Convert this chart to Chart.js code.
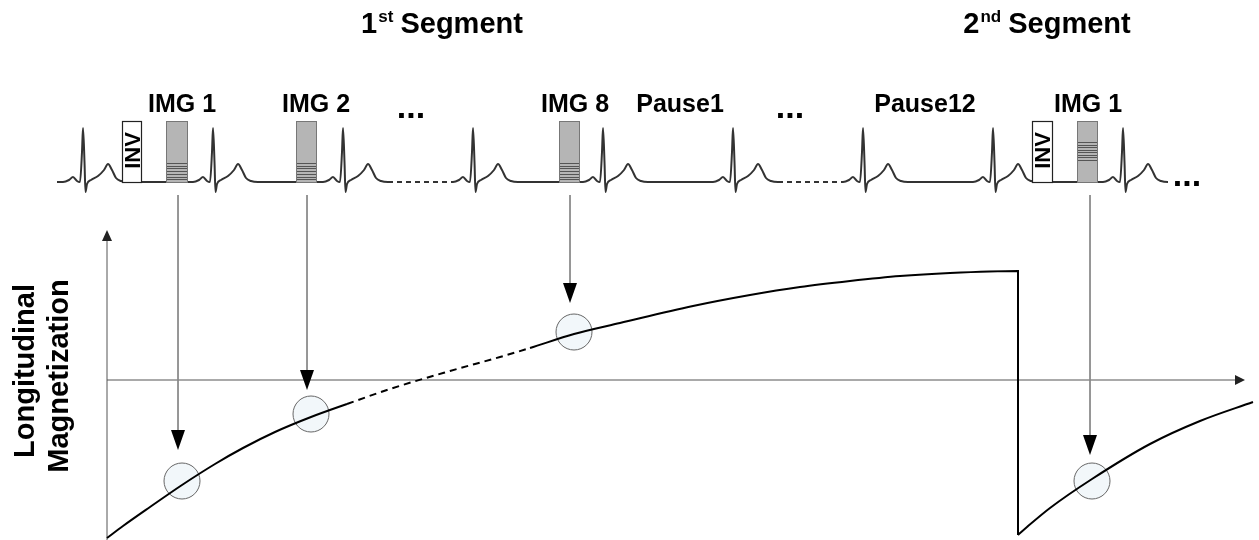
<!DOCTYPE html>
<html>
<head>
<meta charset="utf-8">
<title>Segmented inversion recovery</title>
<script src="https://cdn.jsdelivr.net/npm/chart.js@4/dist/chart.umd.min.js"></script>
<style>
    html, body { margin: 0; padding: 0; background: #fff; }
    #wrap { width: 1259px; height: 540px; position: relative; }
</style>
</head>
<body>
<div id="wrap"><canvas id="diagram"></canvas></div>
<script>
// ECG strip: R-peak times and one heartbeat (offset from R, height above baseline)
const beatTimes = [83, 213, 343, 473, 603, 733, 863, 993, 1123];
const beatShapeDx = [-20, -14, -10, -6, -3, -1, 0, 1.5, 2.5, 4, 8, 15, 21, 25, 29, 33, 38, 45];
const beatShapeH = [0, 2, 5, 1, 0, 30, 54, 20, -10, -2, 2, 6, 12, 18, 12, 4, 1, 0];
const ecgStart = 57;
const ecgEnd = 1167;
const ecgBaseline = 198;
const dashedAfterBeat = [2, 5];

// pulses on the strip
const invStart = [122, 1032];
const invEnd = [141, 1052];
const imgStart = [166, 296, 559, 1077];
const imgEnd = [187, 316, 579, 1097];
const pulseTop = 259;
const imgStripeLow = [0, 0, 0, 22];
const imgStripeHigh = [19, 19, 19, 40];

const topLabels = ["IMG 1", "IMG 2", "...", "IMG 8", "Pause1", "...", "Pause12", "IMG 1"];
const topLabelTimes = [182, 316, 411, 575, 680, 790, 925, 1088];
const segmentNumbers = ["1", "2"];
const segmentSuffixes = ["st", "nd"];
const segmentCenters = [442, 1047];

// longitudinal magnetization, first recovery (ends with the drop) and second recovery
const magTime = [107, 123, 150, 182, 215, 243, 275, 311, 347, 390, 450, 500, 530, 574, 620, 693, 750, 800, 850, 900, 950, 1018, 1018];
const magValue = [-158, -146, -127, -105, -84, -68, -52, -37, -24, -9, 9, 23, 32, 46, 57, 74, 85, 93, 99, 104, 107, 109, -155];
const mag2Time = [1018, 1027, 1050, 1092, 1150, 1200, 1253];
const mag2Value = [-155, -147, -128, -99, -64, -41, -22];
const dashedFrom = 347;
const dashedTo = 530;

// readouts: arrows from the strip down to the curve
const readoutTimes = [178, 307, 570, 1090];
const readoutTips = [-70, -10, 77, -75];
const readoutStart = 185;
const sampleTimes = [182, 311, 574, 1092];
const sampleValues = [-101, -34, 48, -101];

const axisStart = 107;
const axisEndX = 1245;
const axisBottom = -160;
const axisTop = 150;

const FONT = "'Liberation Sans', Arial, sans-serif";

function buildEcg() {
    const points = [{ x: ecgStart, y: ecgBaseline }];
    beatTimes.forEach((r, i) => {
        beatShapeDx.forEach((dx, k) => {
            points.push({
                x: r + dx,
                y: ecgBaseline + beatShapeH[k],
                dashAfter: k === beatShapeDx.length - 1 && dashedAfterBeat.includes(i)
            });
        });
    });
    points.push({ x: ecgEnd, y: ecgBaseline });
    return points;
}

function buildArrows() {
    const points = [];
    readoutTimes.forEach((t, i) => {
        points.push({ x: t, y: readoutStart });
        points.push({ x: t, y: readoutTips[i] + 18 });
        points.push({ x: t, y: null });
    });
    return points;
}

const ecgPoints = buildEcg();

function drawSegmentTitle(ctx, num, sup, cx, baseY) {
    ctx.font = `bold 29px ${FONT}`;
    const wNum = ctx.measureText(num).width;
    const wRest = ctx.measureText(" Segment").width;
    ctx.font = `bold 17px ${FONT}`;
    const wSup = ctx.measureText(sup).width;
    let left = cx - (wNum + wSup + wRest) / 2;
    ctx.textAlign = "left";
    ctx.textBaseline = "alphabetic";
    ctx.font = `bold 29px ${FONT}`;
    ctx.fillText(num, left, baseY);
    left += wNum;
    ctx.font = `bold 17px ${FONT}`;
    ctx.fillText(sup, left + 1, baseY - 11);
    left += wSup;
    ctx.font = `bold 29px ${FONT}`;
    ctx.fillText(" Segment", left, baseY);
}

function arrowHead(ctx, tipX, tipY, dirX, dirY, len, half) {
    const bx = tipX - dirX * len;
    const by = tipY - dirY * len;
    ctx.beginPath();
    ctx.moveTo(tipX, tipY);
    ctx.lineTo(bx - dirY * half, by + dirX * half);
    ctx.lineTo(bx + dirY * half, by - dirX * half);
    ctx.closePath();
    ctx.fill();
}

const diagramPlugin = {
    id: "diagram",
    afterDatasetsDraw(chart) {
        const { ctx } = chart;
        const sx = chart.scales.x;
        const sy = chart.scales.y;
        const px = v => sx.getPixelForValue(v);
        const py = v => sy.getPixelForValue(v);
        ctx.save();

        // inversion pulses
        invStart.forEach((s, i) => {
            const x0 = px(s), x1 = px(invEnd[i]);
            const y0 = py(pulseTop), y1 = py(ecgBaseline);
            ctx.fillStyle = "#ffffff";
            ctx.fillRect(x0, y0, x1 - x0, y1 - y0);
            ctx.strokeStyle = "#222";
            ctx.lineWidth = 1.2;
            ctx.strokeRect(x0 + 0.5, y0 + 0.5, x1 - x0, y1 - y0);
            ctx.fillStyle = "#000";
            ctx.font = `bold 22px ${FONT}`;
            ctx.textAlign = "center";
            ctx.textBaseline = "alphabetic";
            ctx.translate((x0 + x1) / 2 + 8, (y0 + y1) / 2 - 1);
            ctx.rotate(-Math.PI / 2);
            ctx.fillText("INV", 0, 0);
            ctx.setTransform(1, 0, 0, 1, 0, 0);
        });

        // imaging readouts
        imgStart.forEach((s, i) => {
            const x0 = px(s), x1 = px(imgEnd[i]);
            const y0 = py(pulseTop), y1 = py(ecgBaseline);
            ctx.fillStyle = "#b5b5b5";
            ctx.fillRect(x0, y0, x1 - x0, y1 - y0);
            ctx.strokeStyle = "#555";
            ctx.lineWidth = 1;
            const lo = imgStripeLow[i], hi = imgStripeHigh[i];
            const n = 7;
            for (let k = 0; k <= n; k++) {
                const yy = Math.round(py(ecgBaseline + lo + (hi - lo) * k / n)) + 0.5;
                ctx.beginPath();
                ctx.moveTo(x0, yy);
                ctx.lineTo(x1, yy);
                ctx.stroke();
            }
            ctx.strokeStyle = "#777";
            ctx.strokeRect(x0 + 0.5, y0 + 0.5, x1 - x0, y1 - y0);
        });

        // arrow heads
        ctx.fillStyle = "#000";
        readoutTimes.forEach((t, i) => {
            arrowHead(ctx, px(t), py(readoutTips[i]), 0, 1, 20, 7);
        });
        ctx.fillStyle = "#222";
        arrowHead(ctx, px(axisEndX), py(0), 1, 0, 10, 5);
        arrowHead(ctx, px(axisStart), py(axisTop), 0, -1, 11, 5);

        // labels above the strip
        ctx.fillStyle = "#000";
        ctx.textAlign = "center";
        ctx.textBaseline = "alphabetic";
        topLabels.forEach((txt, i) => {
            if (txt === "...") {
                ctx.font = `bold 34px ${FONT}`;
                ctx.fillText(txt, px(topLabelTimes[i]), 118);
            } else {
                ctx.font = `bold 25px ${FONT}`;
                ctx.fillText(txt, px(topLabelTimes[i]), 112);
            }
        });
        ctx.font = `bold 34px ${FONT}`;
        ctx.fillText("...", px(ecgEnd + 20), 186);

        segmentNumbers.forEach((n, i) => {
            drawSegmentTitle(ctx, n, segmentSuffixes[i], px(segmentCenters[i]), 33);
        });

        // y axis title
        ctx.font = `bold 29px ${FONT}`;
        ctx.textAlign = "center";
        ctx.translate(34, 371);
        ctx.rotate(-Math.PI / 2);
        ctx.fillText("Longitudinal", 0, 0);
        ctx.fillText("Magnetization", -5, 34);
        ctx.restore();
    }
};

const magnetizationStyle = {
    borderColor: "#000",
    borderWidth: 2,
    cubicInterpolationMode: "monotone",
    order: 1
};

new Chart(document.getElementById("diagram"), {
    type: "line",
    data: {
        datasets: [
            {
                ...magnetizationStyle,
                label: "Longitudinal magnetization",
                data: magTime.map((t, i) => ({ x: t, y: magValue[i] })),
                segment: {
                    borderDash: c =>
                        magTime[c.p0DataIndex] >= dashedFrom &&
                        magTime[c.p1DataIndex] <= dashedTo ? [7, 5] : undefined
                }
            },
            {
                ...magnetizationStyle,
                label: "Longitudinal magnetization, 2nd segment",
                data: mag2Time.map((t, i) => ({ x: t, y: mag2Value[i] }))
            },
            {
                label: "ECG",
                data: ecgPoints,
                borderColor: "#333",
                borderWidth: 2,
                cubicInterpolationMode: "monotone",
                segment: {
                    borderDash: c =>
                        ecgPoints[c.p0DataIndex].dashAfter ? [5, 4] : undefined
                },
                order: 2
            },
            {
                label: "Readout arrows",
                data: buildArrows(),
                borderColor: "#888",
                borderWidth: 1,
                order: 3
            },
            {
                label: "Axes",
                data: [
                    { x: axisStart, y: 0 },
                    { x: axisEndX - 6, y: 0 },
                    { x: axisStart, y: null },
                    { x: axisStart, y: axisBottom },
                    { x: axisStart, y: axisTop - 6 }
                ],
                borderColor: "#555",
                borderWidth: 1,
                order: 4
            },
            {
                label: "Samples",
                data: sampleTimes.map((t, i) => ({ x: t, y: sampleValues[i] })),
                showLine: false,
                pointRadius: 18,
                pointBackgroundColor: "#f2f7fa",
                pointBorderColor: "#666",
                pointBorderWidth: 1,
                order: 5
            }
        ]
    },
    options: {
        responsive: true,
        maintainAspectRatio: false,
        animation: false,
        events: [],
        layout: { padding: 0, autoPadding: false },
        elements: { point: { radius: 0 } },
        plugins: {
            legend: { display: false },
            tooltip: { enabled: false }
        },
        scales: {
            x: { type: "linear", min: 0, max: 1259, display: false },
            y: { type: "linear", min: -160, max: 380, display: false }
        }
    },
    plugins: [diagramPlugin]
});
</script>
</body>
</html>
